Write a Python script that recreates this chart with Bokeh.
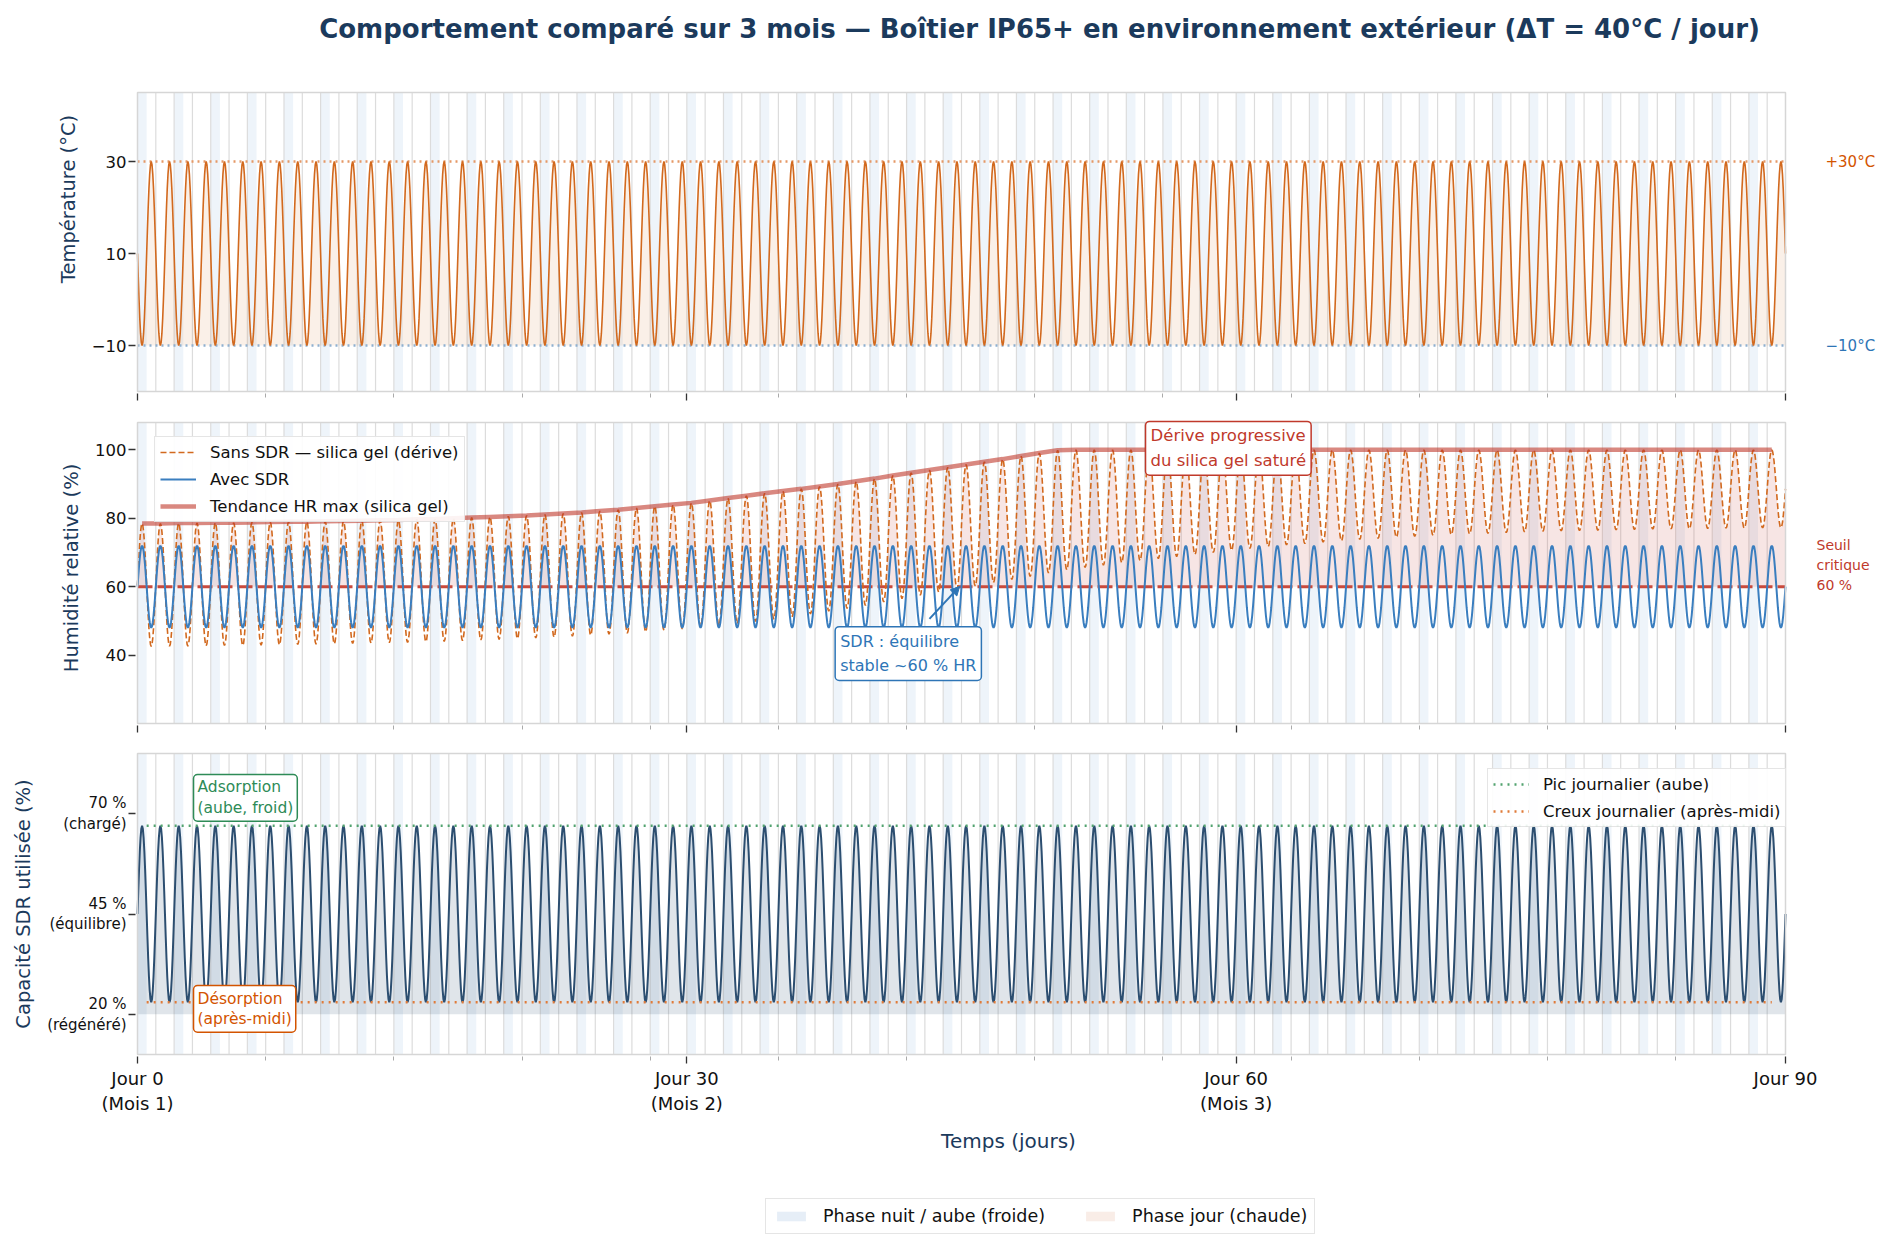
import numpy as np
from bokeh.plotting import figure
from bokeh.layouts import column
from bokeh.models import (FixedTicker, Label, Legend, LegendItem, Range1d,
                          Arrow, NormalHead)
from bokeh.embed import file_html
from bokeh.resources import INLINE

# ---------------------------------------------------------------- data
FONT = "DejaVu Sans"
NAVY = "#1b3a5c"

days = list(range(90))
x_start, x_end = 0, 90
month_ticks = [0, 30, 60, 90]
month_labels = ["Jour 0\n(Mois 1)", "Jour 30\n(Mois 2)", "Jour 60\n(Mois 3)", "Jour 90"]
week_ticks = [7, 14, 21, 28, 35, 42, 49, 56, 63, 70, 77, 84]

# normalised shape of one day (24 hourly samples)
dawn_profile = [0.5, 0.629, 0.75, 0.854, 0.933, 0.983, 1.0, 0.983, 0.933, 0.854, 0.75, 0.629,
                0.5, 0.371, 0.25, 0.146, 0.067, 0.017, 0.0, 0.017, 0.067, 0.146, 0.25, 0.371]
afternoon_profile = [0.5, 0.371, 0.25, 0.146, 0.067, 0.017, 0.0, 0.017, 0.067, 0.146, 0.25, 0.371,
                     0.5, 0.629, 0.75, 0.854, 0.933, 0.983, 1.0, 0.983, 0.933, 0.854, 0.75, 0.629]

temp_max = [30] * 90
temp_min = [-10] * 90
temp_hi, temp_lo = 30, -10

sdr_max = [72] * 90
sdr_min = [48] * 90

silica_max = [78.5, 78.5, 78.6, 78.6, 78.7, 78.7, 78.8, 78.9, 79.0, 79.0,
              79.1, 79.2, 79.3, 79.4, 79.5, 79.7, 79.8, 80.0, 80.2, 80.4,
              80.6, 80.8, 81.1, 81.4, 81.7, 82.1, 82.5, 83.0, 83.5, 84.0,
              84.5, 85.2, 85.9, 86.6, 87.3, 88.0, 88.6, 89.3, 90.0, 90.8,
              91.6, 92.5, 93.3, 94.1, 94.9, 95.7, 96.5, 97.3, 98.2, 99.1,
              99.9] + [100.0] * 39
silica_min = [42.5, 42.6, 42.6, 42.7, 42.8, 42.8, 42.9, 43.0, 43.1, 43.2,
              43.3, 43.4, 43.5, 43.6, 43.7, 43.9, 44.0, 44.2, 44.4, 44.6,
              44.8, 45.0, 45.2, 45.5, 45.8, 46.1, 46.4, 46.8, 47.2, 47.6,
              48.1, 48.6, 49.2, 49.8, 50.5, 51.2, 52.0, 52.8, 53.6, 54.5,
              55.5, 56.5, 57.5, 58.4, 59.3, 60.2, 61.2, 62.1, 63.0, 64.0,
              64.9, 65.6, 66.3, 67.0, 67.6, 68.2, 68.8, 69.4, 70.0, 70.6,
              71.2, 71.7, 72.2, 72.6, 73.0, 73.4, 73.8, 74.1, 74.4, 74.7,
              75.0, 75.2, 75.4, 75.6, 75.8, 76.0, 76.2, 76.3, 76.4, 76.5,
              76.6, 76.7, 76.8, 76.9, 76.9, 77.0, 77.1, 77.1, 77.2, 77.2]
hr_threshold = 60

cap_max = [67] * 90
cap_min = [23] * 90
cap_peak_level, cap_trough_level = 67, 23
cap_base = 20
level_x = [0.5, 89.25]

night_width = 0.5

TITLE = ("Comportement comparé sur 3 mois — Boîtier IP65+ en environnement extérieur "
         "(ΔT = 40°C / jour)")
phase_labels = ["Phase nuit / aube (froide)", "Phase jour (chaude)"]
# legend proxies live outside the (0..1) view of the legend strip
proxy_left, proxy_right = [2], [3]


def daily_series(maxs, mins, profile):
    n = len(profile)
    t, v = [], []
    for d in days:
        for h in range(n):
            t.append(d + h / n)
            v.append(mins[d] + (maxs[d] - mins[d]) * profile[h])
    t.append(days[-1] + 1)
    v.append(mins[-1] + (maxs[-1] - mins[-1]) * profile[0])
    return np.array(t), np.array(v)


t, temp = daily_series(temp_max, temp_min, afternoon_profile)
_, sdr = daily_series(sdr_max, sdr_min, dawn_profile)
_, silica = daily_series(silica_max, silica_min, dawn_profile)
_, cap = daily_series(cap_max, cap_min, dawn_profile)
trend_x = [d + 0.25 for d in days]

band_left = days[::2]
band_right = [d + night_width for d in band_left]
line_days = days[1:]

# ---------------------------------------------------------------- layout geometry
S = 1648 / 90.0            # px per day of the plotted box
PAD = 2                    # px of frame kept outside the drawn box
FW = 1746                  # frame width (box + room for the right-hand notes)
xr = Range1d(x_start - PAD / S, x_start + (FW - PAD) / S)


def make_panel(y0, y1, box_h, extra_top, frame_top_border, bottom_border,
               ylabel, yticks, overrides, ylab_size="16.5px", show_x_labels=False):
    py = box_h / (y1 - y0)
    frame_h = box_h + PAD + extra_top
    yr = Range1d(y0 - PAD / py, y1 + extra_top / py)
    p = figure(x_range=xr, y_range=yr, frame_width=FW, frame_height=frame_h,
               min_border_left=135, min_border_right=0, min_border_top=frame_top_border,
               min_border_bottom=bottom_border, output_backend="svg", toolbar_location=None,
               background_fill_color="white", border_fill_color="white")
    p.grid.visible = False
    p.outline_line_color = None
    p.quad(left=band_left, right=band_right, bottom=y0, top=y1,
           fill_color="#eef4fa", line_color=None)
    p.segment(x0=line_days, y0=y0, x1=line_days, y1=y1, line_color="#dcdcdc", line_width=1.2)

    xa = p.xaxis[0]
    xa.ticker = FixedTicker(ticks=month_ticks, minor_ticks=week_ticks)
    xa.axis_line_color = None
    xa.major_tick_line_color = "#333333"
    xa.major_tick_line_width = 1.3
    xa.major_tick_out = 7
    xa.major_tick_in = 0
    xa.minor_tick_line_color = "#aaaaaa"
    xa.minor_tick_out = 4
    xa.minor_tick_in = 0
    if not show_x_labels:
        xa.major_label_text_color = None
        xa.major_label_text_font_size = "1px"
        xa.major_label_standoff = 0

    ya = p.yaxis[0]
    ya.ticker = FixedTicker(ticks=yticks, minor_ticks=[])
    ya.major_label_overrides = overrides
    ya.axis_line_color = None
    ya.major_tick_line_color = "#333333"
    ya.major_tick_line_width = 1.3
    ya.major_tick_out = 7
    ya.major_tick_in = 0
    ya.minor_tick_line_color = None
    ya.major_label_standoff = 2
    ya.major_label_text_font = FONT
    ya.major_label_text_font_size = ylab_size
    ya.major_label_text_color = "#111111"
    ya.major_label_text_line_height = 1.15
    ya.axis_label = ylabel
    ya.axis_label_text_font = FONT
    ya.axis_label_text_font_size = "19.5px"
    ya.axis_label_text_font_style = "normal"
    ya.axis_label_text_color = NAVY
    ya.axis_label_standoff = 9
    return p


def close_box(p, y0, y1):
    p.quad(left=x_start, right=x_end, bottom=y0, top=y1, fill_color=None,
           line_color="#d6d6d6", line_width=1.5)


def box_label(p, x, y, text, color, size="15.5px", lh=1.3, pad=5):
    p.add_layout(Label(x=x, y=y, text=text, anchor="top_left", text_color=color,
                       text_font=FONT, text_font_size=size, text_line_height=lh,
                       padding=pad, border_line_color=color, border_line_width=1.5,
                       border_radius=4, background_fill_color="white",
                       background_fill_alpha=1.0))


def side_label(p, y, text, color, dx, baseline="middle", dy=0, size="15px"):
    p.add_layout(Label(x=x_end, y=y, x_offset=dx, y_offset=dy, text=text,
                       text_color=color, text_font=FONT, text_font_size=size,
                       text_align="left", text_baseline=baseline, text_line_height=1.25))


def style_legend(lg, size="16.5px"):
    lg.label_text_font = FONT
    lg.label_text_font_size = size
    lg.label_text_color = "#111111"
    lg.border_line_color = "#cccccc"
    lg.border_line_width = 1.5
    lg.background_fill_alpha = 0.9
    lg.glyph_width = 36
    lg.glyph_height = 20
    lg.label_height = 20
    lg.label_standoff = 14
    lg.padding = 5
    lg.spacing = 7


# ---- panel 1 : temperature (frame also holds the title)
p1 = make_panel(-20, 45, 299, 88, 4, 10, "Température (°C)", [-10, 10, 30], {-10: "−10"})
p1.varea(x=t, y1=temp_lo, y2=temp, fill_color="#d2691e", fill_alpha=0.1)
p1.line([x_start, x_end], [temp_hi, temp_hi], line_color="#e59866", line_dash="2 4",
        line_width=2.5)
p1.line([x_start, x_end], [temp_lo, temp_lo], line_color="#8fb0d0", line_dash="2 4",
        line_width=2.5)
p1.line(t, temp, line_color="#d2691e", line_width=1.6)
close_box(p1, -20, 45)
side_label(p1, temp_hi, "+30°C", "#d35400", 40)
side_label(p1, temp_lo, "−10°C", "#2e75b6", 40)
p1.add_layout(Label(x=49.26, y=58.9, text=TITLE, text_align="center", text_baseline="middle",
                    text_font=FONT, text_font_size="26px", text_font_style="bold",
                    text_color=NAVY))

# ---- panel 2 : humidity
p2 = make_panel(20, 108, 301, 12, 7, 14, "Humidité relative (%)", [40, 60, 80, 100], {})
p2.varea(x=t, y1=hr_threshold, y2=np.maximum(silica, hr_threshold),
         fill_color="#c0392b", fill_alpha=0.13)
p2.line([x_start, x_end], [hr_threshold, hr_threshold], line_color="#c94a3c",
        line_dash="15 5", line_width=3)
r_sil = p2.line(t, silica, line_color="#d2691e", line_dash="6 3", line_width=1.6)
r_sdr = p2.line(t, sdr, line_color="#3a7ebf", line_width=2)
r_trend = p2.line(trend_x, silica_max, line_color="#c0392b", line_alpha=0.6, line_width=4.5)
close_box(p2, 20, 108)
leg2 = Legend(items=[LegendItem(label="Sans SDR — silica gel (dérive)", renderers=[r_sil]),
                     LegendItem(label="Avec SDR", renderers=[r_sdr]),
                     LegendItem(label="Tendance HR max (silica gel)", renderers=[r_trend])],
              location=(19, 203))
style_legend(leg2)
p2.add_layout(leg2)
box_label(p2, 55.05, 108.3, "Dérive progressive\ndu silica gel saturé", "#c0392b",
          size="16.5px")
box_label(p2, 38.1, 48.3, "SDR : équilibre\nstable ~60 % HR", "#2e75b6", size="16px")
p2.add_layout(Arrow(end=NormalHead(size=9, fill_color="#2e75b6", line_color="#2e75b6"),
                    x_start=43.25, y_start=50.6, x_end=44.9, y_end=60.1,
                    line_color="#2e75b6", line_width=2))
side_label(p2, hr_threshold, "Seuil\ncritique\n60 %", "#c0392b", 31, baseline="bottom",
           dy=-6, size="14px")

# ---- panel 3 : SDR capacity
p3 = make_panel(10, 85, 301, 2, 12, 102, "Capacité SDR utilisée (%)", [20, 45, 70],
                {20: "20 %\n(régénéré)", 45: "45 %\n(équilibre)", 70: "70 %\n(chargé)"},
                ylab_size="15px", show_x_labels=True)
p3.varea(x=t, y1=cap_base, y2=cap, fill_color="#2c4e70", fill_alpha=0.15)
p3.line(t, cap, line_color="#2c4e70", line_width=2)
r_pk = p3.line(level_x, [cap_peak_level] * 2, line_color="#52a36f", line_dash="2 5",
               line_width=2.5)
r_tr = p3.line(level_x, [cap_trough_level] * 2, line_color="#e07b39", line_dash="2 5",
               line_width=2.5)
close_box(p3, 10, 85)
leg3 = Legend(items=[LegendItem(label="Pic journalier (aube)", renderers=[r_pk]),
                     LegendItem(label="Creux journalier (après-midi)", renderers=[r_tr])],
              location=(1352, 229))
style_legend(leg3)
p3.add_layout(leg3)
box_label(p3, 3.06, 79.77, "Adsorption\n(aube, froid)", "#2e8b57", lh=1.15, pad=4)
box_label(p3, 3.06, 27.19, "Désorption\n(après-midi)", "#d35400", lh=1.15, pad=4)

xa3 = p3.xaxis[0]
xa3.major_label_overrides = dict(zip(month_ticks, month_labels))
xa3.major_label_text_font = FONT
xa3.major_label_text_font_size = "18px"
xa3.major_label_text_color = "#111111"
xa3.major_label_standoff = 4
xa3.axis_label = "Temps (jours)"
xa3.axis_label_text_font = FONT
xa3.axis_label_text_font_size = "20px"
xa3.axis_label_text_font_style = "normal"
xa3.axis_label_text_color = NAVY
xa3.axis_label_standoff = 12

# ---- strip holding the figure-level legend
p4 = figure(x_range=Range1d(0, 1), y_range=Range1d(0, 1), x_axis_type=None, y_axis_type=None,
            frame_width=FW, frame_height=83, min_border_left=135, min_border_right=0,
            min_border_top=0, min_border_bottom=0, output_backend="svg",
            toolbar_location=None, outline_line_color=None, background_fill_color="white",
            border_fill_color="white")
p4.grid.visible = False
r_night = p4.quad(left=proxy_left, right=proxy_right, top=[1], bottom=[0],
                  fill_color="#e6eef7", line_color=None)
r_day = p4.quad(left=proxy_left, right=proxy_right, top=[1], bottom=[0],
                fill_color="#f9ede7", line_color=None)
leg_b = Legend(items=[LegendItem(label=phase_labels[0], renderers=[r_night]),
                      LegendItem(label=phase_labels[1], renderers=[r_day])],
               orientation="horizontal", location=(630, 7))
style_legend(leg_b, size="17.5px")
leg_b.padding = 7
leg_b.spacing = 37
leg_b.glyph_height = 12
leg_b.label_height = 18
leg_b.background_fill_alpha = 1.0
p4.add_layout(leg_b)

layout = column(p1, p2, p3, p4, spacing=0)
open("out.html", "w").write(file_html(layout, INLINE, title="chart"))
